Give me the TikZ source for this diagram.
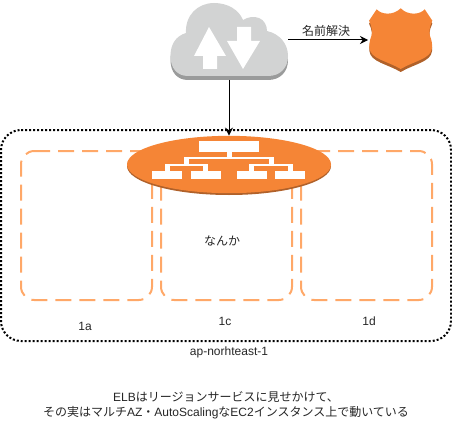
\documentclass[tikz,border=0pt]{standalone}
\usepackage{fontspec}
\usetikzlibrary{arrows.meta,shapes.geometric}
\setmainfont{Liberation Sans}
\newfontfamily\cjk{Noto Sans CJK JP}
\definecolor{awsorange}{HTML}{F58536}
\definecolor{awsdark}{HTML}{B0612A}
\definecolor{azline}{HTML}{FFA868}
\definecolor{cloudfill}{HTML}{D2D3D3}
\definecolor{cloudshade}{HTML}{9A9B9B}
\tikzset{
  region/.style={draw=black,line width=1.5pt,dash pattern=on 1.5pt off 1.5pt,rounded corners=15pt},
  azbox/.style={draw=azline,line width=1.5pt,dash pattern=on 12pt off 6pt,rounded corners=10pt},
  lbl/.style={font=\fontsize{9pt}{11.25pt}\selectfont,text=black!85,inner sep=0pt,align=center},
  link/.style={draw=black,line width=.75pt,-{Stealth[length=6pt,width=6pt]}},
  whiteshape/.style={fill=white,draw=none},
  elbnode/.style={ellipse,fill=awsorange,draw=none,inner sep=0pt,minimum width=153pt,minimum height=43pt}
}
\begin{document}
\begin{tikzpicture}[x=.75pt,y=-.75pt]
\useasboundingbox (0,0) rectangle (452,431);
% region and AZ
\draw[region] (21,130) -- (451,130) -- (451,341) -- (1,341) -- (1,130) -- (21,130);
\draw[azbox] (34,151) -- (152,151) -- (152,300) -- (21,300) -- (21,151) -- (34,151);
\draw[azbox] (174,151) -- (292,151) -- (292,300) -- (161,300) -- (161,151) -- (174,151);
\draw[azbox] (314,151) -- (432,151) -- (432,300) -- (301,300) -- (301,151) -- (314,151);
% cloud
\def\cloudpath#1{(188,#1+76) .. controls (177,#1+76) and (170.5,#1+68) .. (170.5,#1+56)
  .. controls (170.5,#1+44) and (176,#1+36) .. (186,#1+33)
  .. controls (185,#1+15) and (198,#1+3) .. (214,#1+3)
  .. controls (228,#1+3) and (239,#1+10) .. (243,#1+20)
  .. controls (248,#1+17) and (254,#1+16) .. (259,#1+18)
  .. controls (264,#1+20) and (267,#1+25) .. (267,#1+31)
  .. controls (280,#1+34) and (288,#1+44) .. (288,#1+56)
  .. controls (288,#1+68) and (280,#1+76) .. (268,#1+76) -- cycle}
\fill[cloudshade] \cloudpath{4};
\fill[cloudfill] \cloudpath{0};
\fill[whiteshape] (209,27) -- (226,56) -- (217,56) -- (217,69) -- (203,69) -- (203,56) -- (194,56) -- cycle;
\fill[whiteshape] (243,69) -- (227,41) -- (237,41) -- (237,27) -- (251,27) -- (251,41) -- (260,41) -- cycle;
\coordinate (cloudbottom) at (229,80);
\coordinate (cloudright) at (288,40);
% shield
\def\shieldpath#1{(376.7,#1+9.3) .. controls (381,#1+14.5) and (393,#1+16) .. (400.7,#1+8.3)
  .. controls (408.4,#1+16) and (420.4,#1+14.5) .. (424.7,#1+9.3)
  -- (432.3,#1+20.7) .. controls (429,#1+27) and (429,#1+33) .. (430,#1+36)
  .. controls (432,#1+41) and (432.3,#1+45) .. (432,#1+48)
  .. controls (431,#1+59) and (414,#1+61) .. (400.7,#1+69)
  .. controls (387.4,#1+61) and (370.4,#1+59) .. (369.4,#1+48)
  .. controls (369.1,#1+45) and (369.4,#1+41) .. (371.4,#1+36)
  .. controls (372.4,#1+33) and (372.4,#1+27) .. (369.1,#1+20.7) -- cycle}
\fill[awsdark] \shieldpath{3};
\fill[awsorange] \shieldpath{0};
\coordinate (shieldleft) at (368,40);
\draw[link] (cloudright) -- (shieldleft);
\node[lbl,font=\cjk\fontsize{9pt}{11pt}\selectfont] (dnslabel) at (326,31) {名前解決};
% ELB
\fill[awsdark] (229,166) ellipse [x radius=102,y radius=29];
\node[elbnode] (elb) at (229,164.5) {};
\fill[whiteshape] (199.3,141) rectangle (259,151.7);
\fill[whiteshape] (227.3,151.7) rectangle (232,158);
\fill[whiteshape] (184,157.3) rectangle (274,159.3);
\fill[whiteshape] (184,157.3) rectangle (189.3,165);
\fill[whiteshape] (268.7,157.3) rectangle (274,165);
\fill[whiteshape] (165,164) rectangle (208.3,166);
\fill[whiteshape] (165,164) rectangle (170,171);
\fill[whiteshape] (203.3,164) rectangle (208.3,171);
\fill[whiteshape] (249.3,164) rectangle (292.7,166);
\fill[whiteshape] (249.3,164) rectangle (254.3,171);
\fill[whiteshape] (287.7,164) rectangle (292.7,171);
\fill[whiteshape] (152.3,171) rectangle (182.3,179.3);
\fill[whiteshape] (190.7,171) rectangle (220.7,179.3);
\fill[whiteshape] (236.7,171) rectangle (266.7,179.3);
\fill[whiteshape] (275,171) rectangle (305,179.3);
\draw[link] (cloudbottom) -- (elb.north);
% labels
\node[lbl,font=\cjk\fontsize{9pt}{11pt}\selectfont] (nanka) at (222,241) {なんか};
\node[lbl] (az1a) at (85,326) {1a};
\node[lbl] (az1c) at (225,321) {1c};
\node[lbl] (az1d) at (369,321) {1d};
\node[lbl] (regionname) at (229,352) {ap-norhteast-1};
\node[lbl] (note) at (226,405.5) {ELB{\cjk はリージョンサービスに見せかけて、}\\{\cjk その実はマルチ}AZ{\cjk ・}AutoScaling{\cjk な}EC2{\cjk インスタンス上で動いている}};
\end{tikzpicture}
\end{document}
